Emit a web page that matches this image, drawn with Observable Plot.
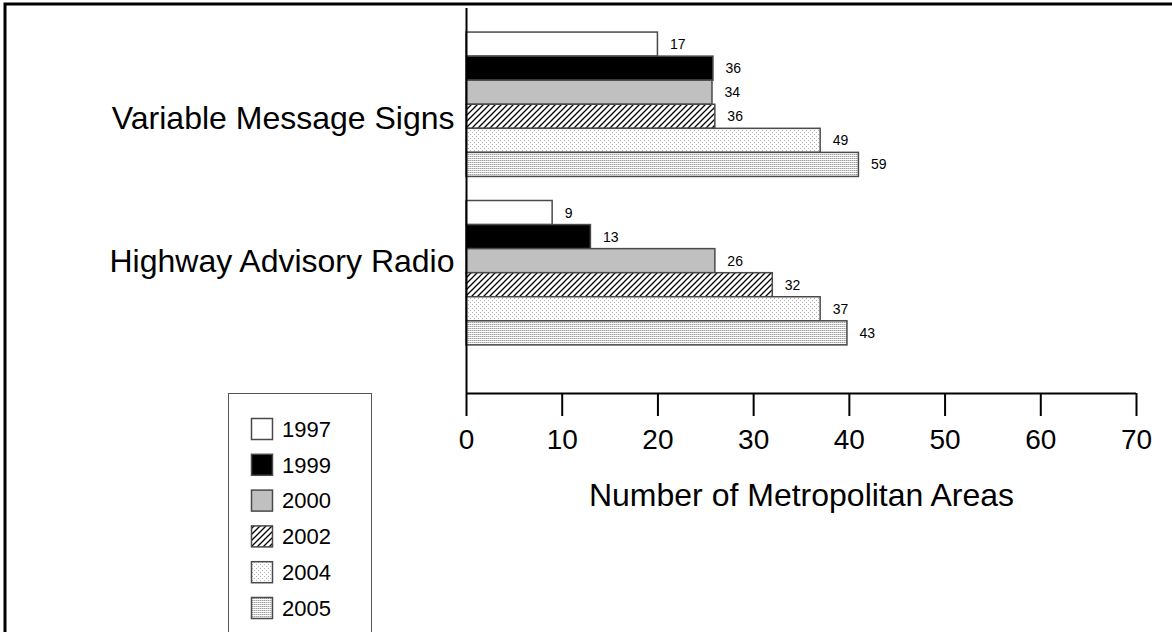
<!DOCTYPE html>
<html><head><meta charset="utf-8">
<script src="https://cdn.jsdelivr.net/npm/d3@7"></script>
<script src="https://cdn.jsdelivr.net/npm/@observablehq/plot@0.6"></script>
<style>
html,body{margin:0;padding:0;background:#fff;}
#chart{position:relative;width:1172px;height:632px;overflow:hidden;}
</style></head><body><div id="chart"></div>
<script>
// ---- data ----
const categories = ["Variable Message Signs", "Highway Advisory Radio"];
const years = ["1997", "1999", "2000", "2002", "2004", "2005"];
// printed value labels
const vmsValues = [17, 36, 34, 36, 49, 59];
const harValues = [9, 13, 26, 32, 37, 43];
// bar lengths as drawn, read against the x axis
const vmsBarLengths = [20, 25.8, 25.7, 26, 37, 41];
const harBarLengths = [9, 13, 26, 32, 37, 39.8];
const xTicks = [0, 10, 20, 30, 40, 50, 60, 70];
const axisTitle = "Number of Metropolitan Areas";

const fills = {"1997": "white", "1999": "black", "2000": "#c0c0c0",
  "2002": "url(#pat2002)", "2004": "url(#pat2004)", "2005": "url(#pat2005)"};

const groupSize = years.length + 1;   // one empty slot between groups
const slotCount = 1 + categories.length * groupSize + 1;
const rows = [];
categories.forEach((cat, ci) => {
  const vals = ci === 0 ? vmsValues : harValues;
  const lens = ci === 0 ? vmsBarLengths : harBarLengths;
  years.forEach((yr, yi) => rows.push({
    category: cat, year: yr, value: vals[yi], length: lens[yi],
    slot: 1 + ci * groupSize + yi
  }));
});

const FONT = "Arial, 'Liberation Sans', Helvetica, sans-serif";
const labelShift = [14, -11]; // category label vertical offsets (px), as in the original

const plot = Plot.plot({
  width: 1172, height: 632,
  marginLeft: 466, marginRight: 36, marginTop: 8, marginBottom: 239,
  x: {domain: [0, 70]},
  y: {domain: [0, slotCount], reverse: true, axis: null},
  style: {fontFamily: FONT, background: "white", color: "black"},
  marks: [
    ...years.map(yr => Plot.rect(rows.filter(r => r.year === yr), {
      x1: 0, x2: "length", y1: "slot", y2: r => r.slot + 1,
      fill: fills[yr], stroke: "#4a4a4a", strokeWidth: 1.5
    })),
    Plot.ruleX([0], {stroke: "black", strokeWidth: 2}),
    Plot.ruleY([slotCount], {stroke: "black", strokeWidth: 2}),
    Plot.axisX({ticks: xTicks, tickSize: 23, tickPadding: 13, fontSize: 28,
      label: null, strokeWidth: 2, fontFamily: "'Liberation Sans Narrow', Arial, sans-serif"}),
    ...categories.map((c, i) => Plot.text([c], {x: 0, y: 1 + i * groupSize + years.length / 2,
      text: d => d, dx: -12, dy: labelShift[i], textAnchor: "end", fontSize: 32})),
    Plot.text(rows, {x: "length", y: r => r.slot + 0.5, text: r => String(r.value),
      dx: 12, textAnchor: "start", fontSize: 14}),
    Plot.text([axisTitle], {frameAnchor: "bottom", text: d => d, dy: 112, fontSize: 32})
  ]
});
document.getElementById("chart").appendChild(plot);

// ---- patterns, frame and legend ----
const svg = d3.select(plot);
const defs = svg.insert("defs", ":first-child");
const p2002 = defs.append("pattern").attr("id", "pat2002").attr("patternUnits", "userSpaceOnUse")
  .attr("width", 6).attr("height", 6);
p2002.append("rect").attr("width", 6).attr("height", 6).attr("fill", "white");
p2002.append("path").attr("d", "M-1,1 L1,-1 M0,6 L6,0 M5,7 L7,5")
  .attr("stroke", "black").attr("stroke-width", 1.3);
const p2004 = defs.append("pattern").attr("id", "pat2004").attr("patternUnits", "userSpaceOnUse")
  .attr("width", 4).attr("height", 4);
p2004.append("rect").attr("width", 4).attr("height", 4).attr("fill", "white");
[[0, 0], [2, 2]].forEach(([x, y]) => p2004.append("rect").attr("x", x).attr("y", y)
  .attr("width", 1).attr("height", 1).attr("fill", "#b4b4b4"));
const p2005 = defs.append("pattern").attr("id", "pat2005").attr("patternUnits", "userSpaceOnUse")
  .attr("width", 2).attr("height", 2);
p2005.append("rect").attr("width", 2).attr("height", 2).attr("fill", "white");
p2005.append("rect").attr("x", 0).attr("y", 0).attr("width", 1).attr("height", 1).attr("fill", "#a0a0a0");
p2005.append("rect").attr("x", 1).attr("y", 0).attr("width", 1).attr("height", 1).attr("fill", "#d0d0d0");

svg.append("path").attr("d", "M5,640 V4 H1180").attr("fill", "none")
  .attr("stroke", "black").attr("stroke-width", 3);

const leg = svg.append("g");
leg.append("rect").attr("x", 228.5).attr("y", 393.5).attr("width", 143).attr("height", 300)
  .attr("fill", "white").attr("stroke", "#555").attr("stroke-width", 1);
years.forEach((yr, i) => {
  const y = 418 + i * 35.8;
  leg.append("rect").attr("x", 251.5).attr("y", y + 0.5).attr("width", 21).attr("height", 21)
    .attr("fill", fills[yr]).attr("stroke", "#4a4a4a").attr("stroke-width", 1.5);
  leg.append("text").attr("x", 282).attr("y", y + 11).attr("dy", "0.35em")
    .attr("text-anchor", "start")
    .attr("font-size", 22).attr("font-family", FONT).text(yr);
});
</script></body></html>
